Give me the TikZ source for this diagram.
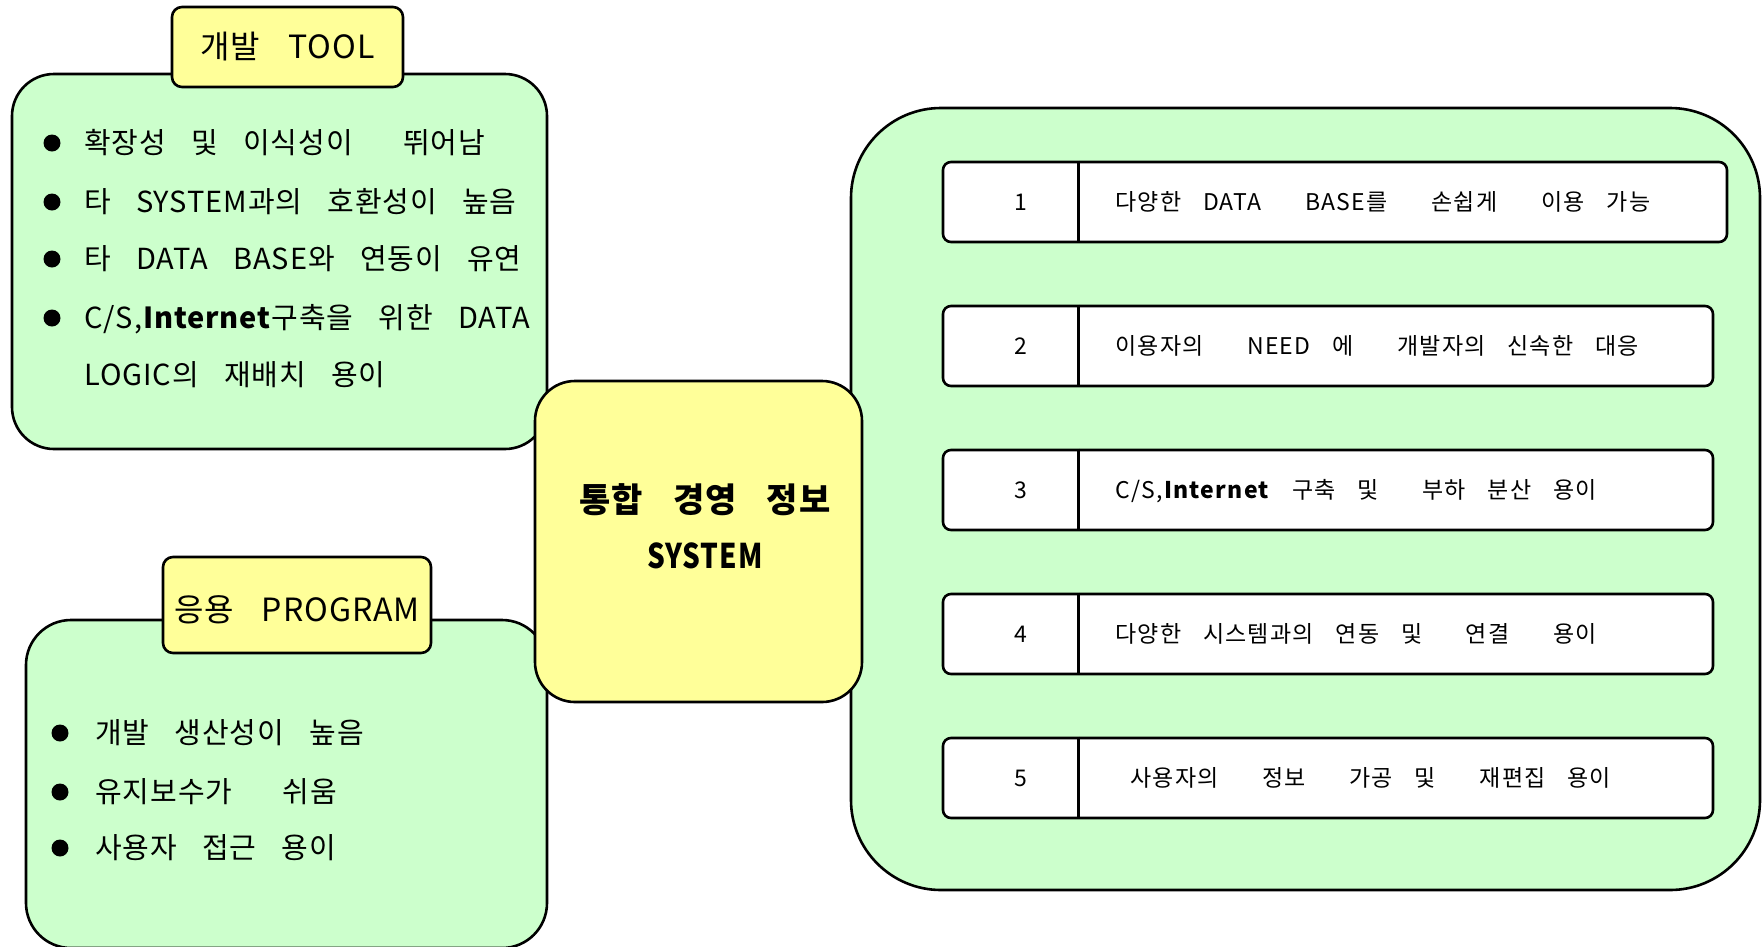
\documentclass[tikz,border=0pt]{standalone}
\usepackage{fontspec}
\setmainfont[LetterSpace=3.2, WordSpace=3.4]{Noto Sans CJK KR}
\newfontfamily\rowfont[LetterSpace=5.5, WordSpace=3.4]{Noto Sans CJK KR}
\definecolor{boxgreen}{HTML}{CCFFCC}
\definecolor{boxyellow}{HTML}{FFFF99}

\begin{document}
\begin{tikzpicture}[x=1pt, y=-1pt,
        greenpanel/.style={draw, line width=2.6pt, fill=boxgreen, inner sep=0pt},
        yellowtag/.style={draw, line width=2.6pt, fill=boxyellow, rounded corners=10pt, inner sep=0pt,
            font=\fontsize{32}{32}\selectfont, text height=26pt, text depth=2.4pt},
        blob/.style={circle, fill, inner sep=0pt, minimum size=17pt},
        listline/.style={anchor=west, inner sep=0pt, font=\fontsize{29}{29}\selectfont,
            text height=23.4pt, text depth=2pt},
        rowbox/.style={draw, line width=2.6pt, fill=white, rounded corners=8pt, inner sep=0pt,
            minimum height=80pt},
        rownum/.style={inner sep=0pt, font=\rowfont\fontsize{23}{23}\selectfont},
        rowtext/.style={anchor=west, inner sep=0pt, font=\rowfont\fontsize{23}{23}\selectfont,
            text height=19pt, text depth=2pt}]
        \clip (0,0) rectangle (1762,946);

        % left panels
        \node[greenpanel, rounded corners=42pt, minimum width=535pt, minimum height=375pt] (TOOL_BOX) at (279.5,261.5) {};
        \node[greenpanel, rounded corners=45pt, minimum width=521pt, minimum height=328pt] (PROG_BOX) at (286.5,784) {};
        \node[yellowtag, minimum width=231pt, minimum height=80pt] (TOOL_TAG) at (287.5,47) {개발 TOOL};
        \node[yellowtag, minimum width=268pt, minimum height=96pt, text height=36pt] (PROG_TAG) at (297,605) {응용 PROGRAM\hspace{20pt}};

        \node[blob] (TOOL_DOT_A) at (52,143) {};
        \node[blob] (TOOL_DOT_B) at (52,202) {};
        \node[blob] (TOOL_DOT_C) at (52,259) {};
        \node[blob] (TOOL_DOT_D) at (52,318) {};
        \node[listline] (TOOL_A) at (84,143) {확장성 및 이식성이\ \ 뛰어남};
        \node[listline] (TOOL_B) at (84,202) {타 SYSTEM과의 호환성이 높음};
        \node[listline] (TOOL_C) at (84,259) {타 DATA BASE와 연동이 유연};
        \node[listline] (TOOL_D) at (84,318) {C/S,\textbf{Internet}구축을 위한 DATA};
        \node[listline] (TOOL_E) at (84,375) {LOGIC의 재배치 용이};

        \node[blob] (PROG_DOT_A) at (60,733) {};
        \node[blob] (PROG_DOT_B) at (60,792) {};
        \node[blob] (PROG_DOT_C) at (60,848) {};
        \node[listline] (PROG_A) at (95,733) {개발 생산성이 높음};
        \node[listline] (PROG_B) at (95,792) {유지보수가\ \ 쉬움};
        \node[listline] (PROG_C) at (95,848) {사용자 접근 용이};

        % right panel
        \node[greenpanel, rounded corners=90pt, minimum width=909pt, minimum height=782pt] (FEAT_BOX) at (1305.5,499) {};

        \node[rowbox, minimum width=784pt] (ROW_1) at (1335,202) {};
        \node[rowbox, minimum width=770pt] (ROW_2) at (1328,346) {};
        \node[rowbox, minimum width=770pt] (ROW_3) at (1328,490) {};
        \node[rowbox, minimum width=770pt] (ROW_4) at (1328,634) {};
        \node[rowbox, minimum width=770pt] (ROW_5) at (1328,778) {};
        \draw[line width=2.6pt] ([xshift=137pt]ROW_1.north west) -- ([xshift=137pt]ROW_1.south west);
        \draw[line width=2.6pt] ([xshift=137pt]ROW_2.north west) -- ([xshift=137pt]ROW_2.south west);
        \draw[line width=2.6pt] ([xshift=137pt]ROW_3.north west) -- ([xshift=137pt]ROW_3.south west);
        \draw[line width=2.6pt] ([xshift=137pt]ROW_4.north west) -- ([xshift=137pt]ROW_4.south west);
        \draw[line width=2.6pt] ([xshift=137pt]ROW_5.north west) -- ([xshift=137pt]ROW_5.south west);

        \node[rownum] (NUM_1) at (1021,202) {1};
        \node[rownum] (NUM_2) at (1021,346) {2};
        \node[rownum] (NUM_3) at (1021,490) {3};
        \node[rownum] (NUM_4) at (1021,634) {4};
        \node[rownum] (NUM_5) at (1021,778) {5};
        \node[rowtext] (TXT_1) at (1115,202) {다양한 DATA\ \ BASE를\ \ 손쉽게\ \ 이용 가능};
        \node[rowtext] (TXT_2) at (1115,346) {이용자의\ \ NEED 에\ \ 개발자의 신속한 대응};
        \node[rowtext] (TXT_3) at (1115,490) {C/S,\textbf{Internet} 구축 및\ \ 부하 분산 용이};
        \node[rowtext] (TXT_4) at (1115,634) {다양한 시스템과의 연동 및\ \ 연결\ \ 용이};
        \node[rowtext] (TXT_5) at (1130,778) {사용자의\ \ 정보\ \ 가공 및\ \ 재편집 용이};

        % centre
        \node[draw, line width=2.6pt, fill=boxyellow, rounded corners=40pt, inner sep=0pt,
            minimum width=327pt, minimum height=321pt] (CORE) at (698.5,541.5) {};
        \node[align=center, font=\bfseries\fontsize{34}{56}\selectfont] (CORE_TEXT) at (705,526) {통합 경영 정보\\\scalebox{0.82}[1]{SYSTEM}};
\end{tikzpicture}
\end{document}
